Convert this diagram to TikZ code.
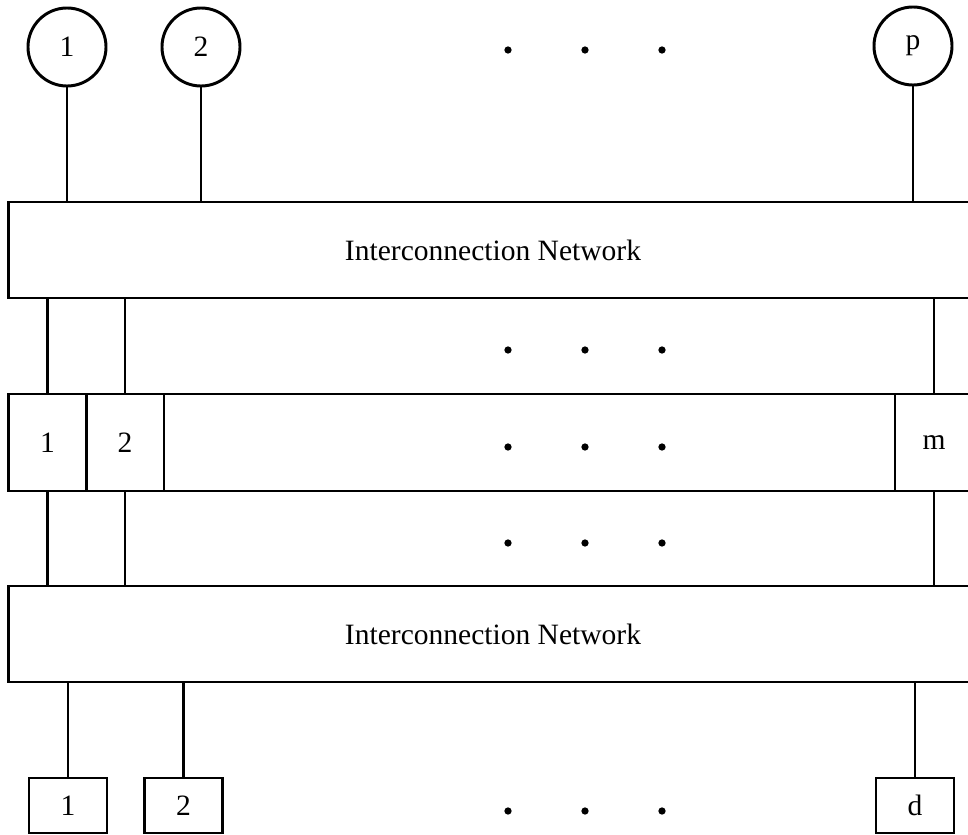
\documentclass[tikz,border=0pt]{standalone}
\usepackage{fontspec}
\setmainfont{Liberation Serif}

\tikzset{
  proc/.style={draw, circle, minimum size=1.95cm, inner sep=0pt},
  net/.style={draw, rectangle, minimum width=24.2cm, minimum height=2.4cm, inner sep=0pt},
  memcell/.style={draw, rectangle, minimum width=1.95cm, minimum height=2.425cm, inner sep=0pt},
  disk/.style={draw, rectangle, minimum width=1.95cm, minimum height=1.375cm, inner sep=0pt},
}

\begin{document}
\begin{tikzpicture}[x=0.025cm, y=-0.025cm, line width=2.1pt, font=\fontsize{21}{25}\selectfont]
\useasboundingbox (0,0) rectangle (968,835);
\clip (0,0) rectangle (968,835);

% processors
\node[proc] (proc1) at (67,47) {1};
\node[proc] (proc2) at (201,47) {2};
\node[proc] (procp) at (913,46) {p};

% networks
\node[net] (netup) at (493,250) {Interconnection Network};
\node[net] (netdown) at (493,634) {Interconnection Network};

% memory modules
\node[draw, rectangle, minimum width=24.2cm, minimum height=2.425cm] (memrow) at (493,442.5) {};
\node[memcell] (mem1) at (47.5,442.5) {1};
\node[memcell] (mem2) at (125,442.5) {2};
\node[memcell] (memm) at (934,442.5) {m};

% disks
\node[disk] (disk1) at (68,805.5) {1};
\node[disk] (disk2) at (183.5,805.5) {2};
\node[disk] (diskd) at (915,805.5) {d};

% links
\foreach \n in {proc1,proc2,procp}
  \draw (\n.south) -- (\n.south |- netup.north);
\foreach \n in {mem1,mem2,memm} {
  \draw (\n.north) -- (\n.north |- netup.south);
  \draw (\n.south) -- (\n.south |- netdown.north);
}
\foreach \n in {disk1,disk2,diskd}
  \draw (\n.north) -- (\n.north |- netdown.south);

% ellipses
\foreach \y in {50,350,447,543,811}
  \foreach \x in {508,585,662}
    \fill (\x,\y) circle (2.6pt);

\end{tikzpicture}
\end{document}
